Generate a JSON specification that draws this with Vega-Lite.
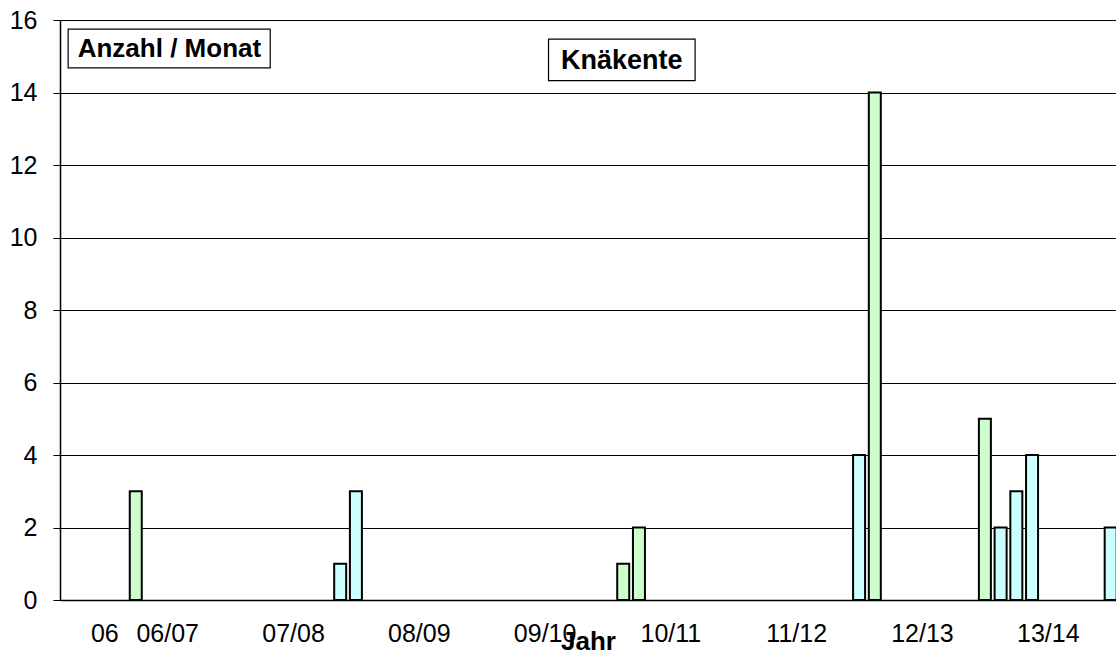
{
  "$schema": "https://vega.github.io/schema/vega-lite/v6.json",
  "width": 1056,
  "height": 580,
  "autosize": {"type": "none"},
  "padding": {"left": 60, "top": 20, "right": 0, "bottom": 53},
  "background": "white",
  "config": {"view": {"stroke": null}, "font": "Liberation Sans"},
  "datasets": {
    "bars": [
      {"slot": 4, "anzahl": 3, "gruppe": "A"},
      {"slot": 17, "anzahl": 1, "gruppe": "B"},
      {"slot": 18, "anzahl": 3, "gruppe": "B"},
      {"slot": 35, "anzahl": 1, "gruppe": "A"},
      {"slot": 36, "anzahl": 2, "gruppe": "A"},
      {"slot": 50, "anzahl": 4, "gruppe": "B"},
      {"slot": 51, "anzahl": 14, "gruppe": "A"},
      {"slot": 58, "anzahl": 5, "gruppe": "A"},
      {"slot": 59, "anzahl": 2, "gruppe": "B"},
      {"slot": 60, "anzahl": 3, "gruppe": "B"},
      {"slot": 61, "anzahl": 4, "gruppe": "B"},
      {"slot": 66, "anzahl": 2, "gruppe": "B"}
    ],
    "one": [{"k": 1}]
  },
  "layer": [
    {
      "data": {"name": "bars"},
      "mark": {"type": "bar", "width": 12, "stroke": "black", "strokeWidth": 2, "clip": true},
      "encoding": {
        "x": {
          "field": "slot",
          "type": "quantitative",
          "scale": {"domain": [-0.5, 66.02], "nice": false, "zero": false},
          "axis": {
            "values": [2, 6, 14, 22, 30, 38, 46, 54, 62],
            "labelExpr": "['06','06/07','07/08','08/09','09/10','10/11','11/12','12/13','13/14'][indexof([2,6,14,22,30,38,46,54,62], datum.value)]",
            "ticks": false,
            "tickSize": 0,
            "grid": false,
            "labelPadding": 41,
            "labelBaseline": "alphabetic",
            "labelFontSize": 25,
            "labelColor": "black",
            "labelFlush": false,
            "labelOverlap": false,
            "domainColor": "black",
            "domainWidth": 1.5,
            "title": "Jahr",
            "titleFontSize": 26,
            "titleFontWeight": "bold",
            "titleColor": "black",
            "titleBaseline": "alphabetic",
            "titleY": 49
          }
        },
        "y": {
          "field": "anzahl",
          "type": "quantitative",
          "scale": {"domain": [0, 16], "nice": false},
          "axis": {
            "values": [0, 2, 4, 6, 8, 10, 12, 14, 16],
            "tickSize": 7,
            "tickColor": "black",
            "labelPadding": 16,
            "labelFontSize": 25,
            "labelColor": "black",
            "labelFlush": false,
            "domainColor": "black",
            "domainWidth": 1.5,
            "grid": true,
            "gridColor": "black",
            "gridOpacity": 1,
            "gridWidth": 1,
            "title": null
          }
        },
        "color": {
          "field": "gruppe",
          "type": "nominal",
          "scale": {"domain": ["A", "B"], "range": ["#CCFFCC", "#CCFFFF"]},
          "legend": null
        }
      }
    },
    {
      "data": {"name": "one"},
      "mark": {"type": "rect", "fill": "white", "stroke": "black", "strokeWidth": 1.2},
      "encoding": {
        "x": {"datum": -0.3, "type": "quantitative", "scale": {"domain": [-0.5, 66.02], "nice": false, "zero": false}},
        "x2": {"datum": 12.55},
        "y": {"datum": 15.75, "type": "quantitative", "scale": {"domain": [0, 16], "nice": false}},
        "y2": {"datum": 14.68}
      }
    },
    {
      "data": {"name": "one"},
      "mark": {"type": "text", "text": "Anzahl / Monat", "fontSize": 26, "fontWeight": "bold", "color": "black", "align": "center", "baseline": "alphabetic"},
      "encoding": {
        "x": {"datum": 6.14, "type": "quantitative", "scale": {"domain": [-0.5, 66.02], "nice": false, "zero": false}},
        "y": {"datum": 14.98, "type": "quantitative", "scale": {"domain": [0, 16], "nice": false}}
      }
    },
    {
      "data": {"name": "one"},
      "mark": {"type": "rect", "fill": "white", "stroke": "black", "strokeWidth": 1.2},
      "encoding": {
        "x": {"datum": 30.25, "type": "quantitative", "scale": {"domain": [-0.5, 66.02], "nice": false, "zero": false}},
        "x2": {"datum": 39.57},
        "y": {"datum": 15.47, "type": "quantitative", "scale": {"domain": [0, 16], "nice": false}},
        "y2": {"datum": 14.33}
      }
    },
    {
      "data": {"name": "one"},
      "mark": {"type": "text", "text": "Knäkente", "fontSize": 27, "fontWeight": "bold", "color": "black", "align": "center", "baseline": "alphabetic"},
      "encoding": {
        "x": {"datum": 34.91, "type": "quantitative", "scale": {"domain": [-0.5, 66.02], "nice": false, "zero": false}},
        "y": {"datum": 14.64, "type": "quantitative", "scale": {"domain": [0, 16], "nice": false}}
      }
    }
  ]
}
